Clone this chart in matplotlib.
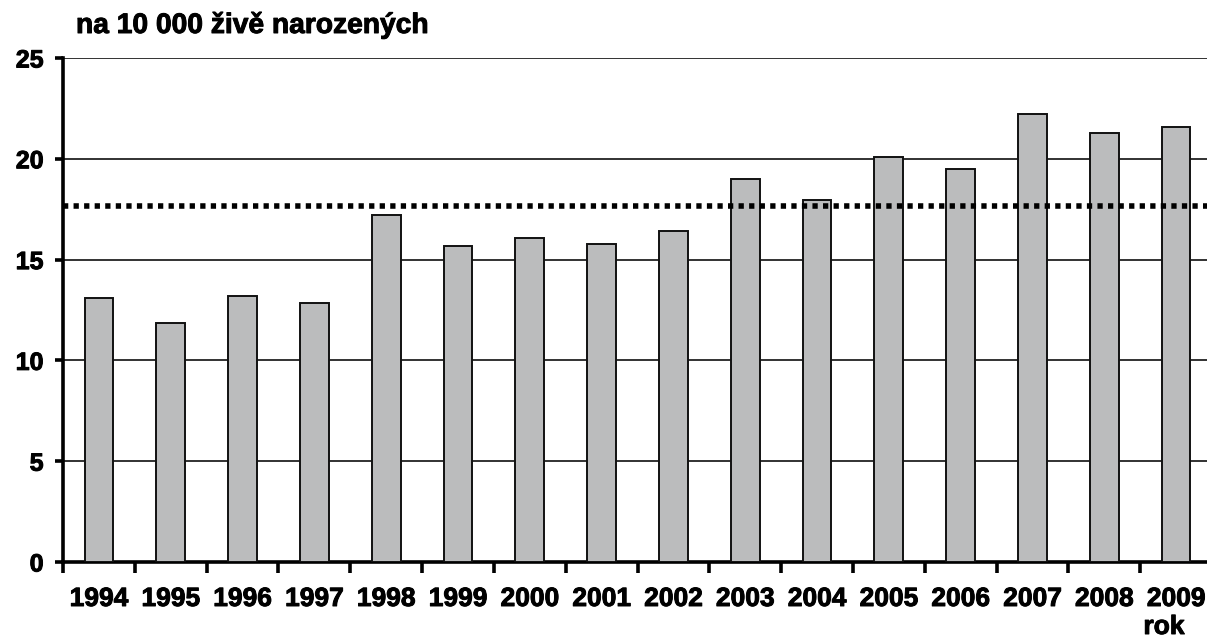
import matplotlib
matplotlib.use("Agg")
import matplotlib.pyplot as plt
import matplotlib.patheffects as pe

years = ["1994", "1995", "1996", "1997", "1998", "1999", "2000", "2001",
         "2002", "2003", "2004", "2005", "2006", "2007", "2008", "2009"]
values = [13.1, 11.85, 13.2, 12.85, 17.2, 15.65, 16.05, 15.75,
          16.4, 19.0, 17.95, 20.1, 19.5, 22.2, 21.3, 21.6]
average = 17.65
y_ticks = [0, 5, 10, 15, 20, 25]
ylabel = "na 10 000 živě narozených"
xlabel = "rok"

FAM = ["Liberation Sans", "DejaVu Sans"]
bold_fx = [pe.withStroke(linewidth=0.7, foreground="black")]

fig = plt.figure(figsize=(12.07, 6.39), dpi=100)
ax = fig.add_axes([63/1207, 77/639, 1149/1207, 504/639])

x = list(range(len(years)))
ax.bar(x, values, width=0.4, color="#bbbcbd", edgecolor="#111111", linewidth=1.4, zorder=3)
ax.axhline(average, color="black", linewidth=4, linestyle=(0, (0.95, 0.95)), zorder=4)

ax.set_xlim(-0.5, len(years) - 0.5)
ax.set_ylim(0, 25)
ax.set_yticks(y_ticks)
ax.yaxis.grid(True, color="#222222", linewidth=1.3, zorder=0)
ax.set_axisbelow(True)

for s in ["top", "right"]:
    ax.spines[s].set_visible(False)
for s in ["left", "bottom"]:
    ax.spines[s].set_linewidth(2.6)
    ax.spines[s].set_color("black")

ax.set_xticks(x)
ax.set_xticklabels(years)
ax.set_xticks([i - 0.5 for i in x], minor=True)
ax.tick_params(axis="x", which="major", length=0, pad=18)
ax.tick_params(axis="x", which="minor", length=8, width=2.6, direction="out")
ax.tick_params(axis="y", length=6, width=2.6, direction="out", pad=8)

for lab in ax.get_xticklabels():
    lab.set_fontfamily(FAM)
    lab.set_fontweight("bold")
    lab.set_fontsize(19)
    lab.set_path_effects(bold_fx)
for lab in ax.get_yticklabels():
    lab.set_fontfamily(FAM)
    lab.set_fontweight("bold")
    lab.set_fontsize(18)
    lab.set_path_effects(bold_fx)

fig.text(76/1207, 1 - 33/639, ylabel, fontsize=20.3, fontweight="bold",
         family=FAM, ha="left", va="baseline", path_effects=bold_fx)
fig.text(1164/1207, 1 - 634/639, xlabel, fontsize=19, fontweight="bold",
         family=FAM, ha="center", va="baseline", path_effects=bold_fx)

fig.savefig("out.png", dpi=100)
